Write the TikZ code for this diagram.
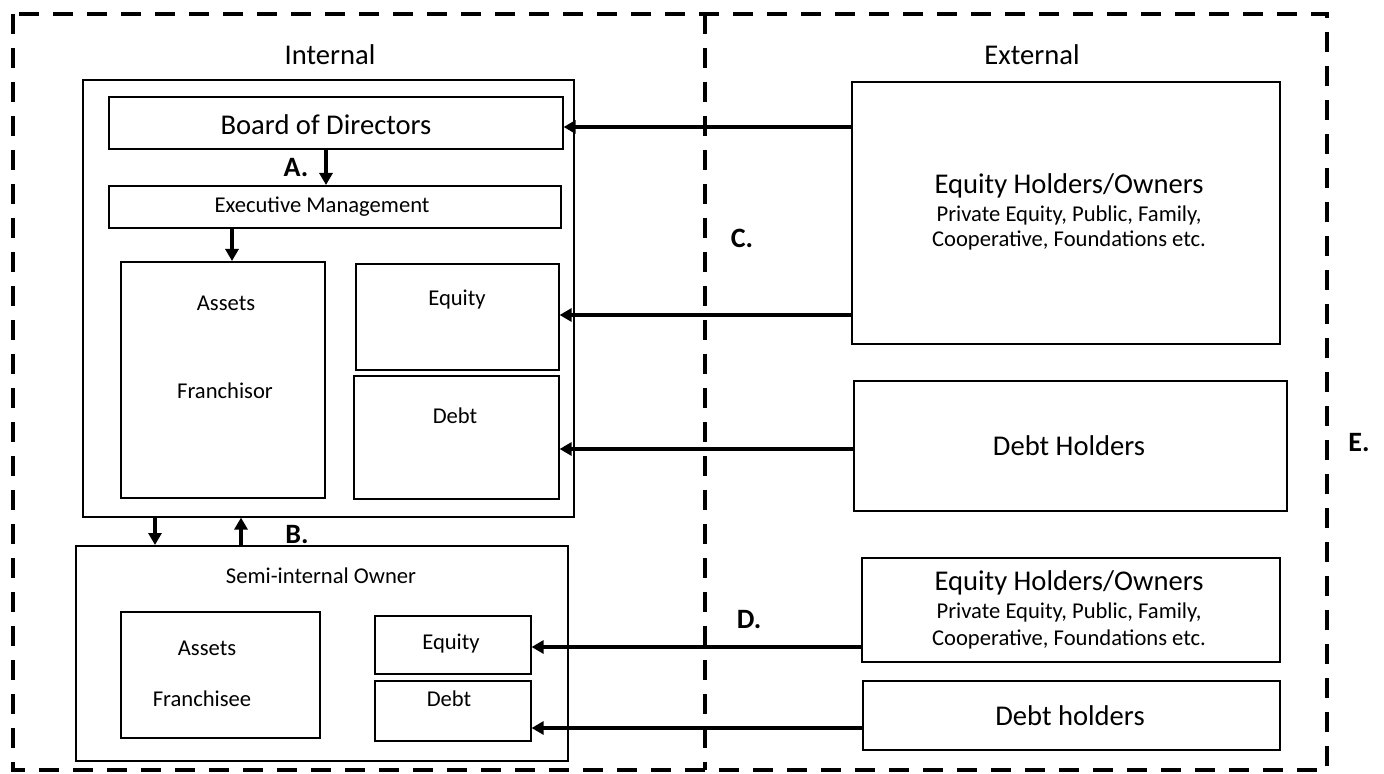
\documentclass[tikz,border=0pt]{standalone}
\usepackage{fontspec}
\setmainfont{Carlito}
\usetikzlibrary{arrows.meta}

\tikzset{
  frame/.style={line width=2pt, dash pattern=on 10pt off 7pt},
  box/.style={draw, line width=0.8pt, anchor=north west, inner sep=0pt},
  flow/.style={line width=2pt, -{Triangle[length=6pt, width=6.5pt]}},
  big/.style={font=\fontsize{14.3}{17}\selectfont},
  small/.style={font=\fontsize{11.3}{13.5}\selectfont},
  tag/.style={font=\fontsize{14}{16}\selectfont\bfseries},
}

\begin{document}
\begin{tikzpicture}[x=0.5pt, y=-0.5pt]
\useasboundingbox (0,0) rectangle (1384,774);

% dashed frame, internal | external
\draw[frame] (13,14) rectangle (1327,770);
\draw[frame] (705,14) -- (705,770);
\node[big] (internal) at (330,55) {Internal};
\node[big] (external) at (1032,55) {External};

% franchisor side
\node[box, minimum width=245.5pt, minimum height=218.5pt] (franchisor) at (82,79) {};
\node[box, minimum width=227pt, minimum height=26pt] (board) at (108,96) {};
\node[big] (boardtxt) at (326,125) {Board of Directors};
\node[box, minimum width=226pt, minimum height=21pt] (exec) at (108,185) {};
\node[small] (exectxt) at (322,207) {Executive Management};
\node[box, minimum width=102pt, minimum height=118pt] (assetsF) at (120,261) {};
\node[small] (assetsFtxt) at (226,303) {Assets};
\node[small] (franchisortxt) at (225,391) {Franchisor};
\node[box, minimum width=101.5pt, minimum height=53pt] (equityF) at (355,263) {};
\node[small] (equityFtxt) at (457,300) {Equity};
\node[box, minimum width=102.5pt, minimum height=61.5pt] (debtF) at (353,375) {};
\node[small] (debtFtxt) at (455,416) {Debt};

% semi-internal owner
\node[box, minimum width=246pt, minimum height=107.5pt] (semi) at (75,545) {};
\node[small] (semitxt) at (321,576) {Semi-internal Owner};
\node[box, minimum width=99.5pt, minimum height=63pt] (assetsS) at (120,611) {};
\node[small] (assetsStxt) at (207,648) {Assets};
\node[small] (franchiseetxt) at (202,699) {Franchisee};
\node[box, minimum width=78pt, minimum height=29pt] (equityS) at (374,615) {};
\node[small] (equityStxt) at (451,644) {Equity};
\node[box, minimum width=78pt, minimum height=30pt] (debtS) at (374,680) {};
\node[small] (debtStxt) at (449,699) {Debt};

% external holders
\node[box, minimum width=214pt, minimum height=131pt] (eqh1) at (851,81) {};
\node[big] (eqh1title) at (1069,186) {Equity Holders/Owners};
\node[small] (eqh1a) at (1069,215) {Private Equity, Public, Family,};
\node[small] (eqh1b) at (1069,240) {Cooperative, Foundations etc.};
\node[box, minimum width=216.5pt, minimum height=65pt] (debth1) at (853,380) {};
\node[big] (debth1txt) at (1069,446) {Debt Holders};
\node[box, minimum width=209pt, minimum height=52pt] (eqh2) at (861,557) {};
\node[big] (eqh2title) at (1069,583) {Equity Holders/Owners};
\node[small] (eqh2a) at (1069,612) {Private Equity, Public, Family,};
\node[small] (eqh2b) at (1069,639) {Cooperative, Foundations etc.};
\node[box, minimum width=208.5pt, minimum height=34.5pt] (debth2) at (862,680) {};
\node[big] (debth2txt) at (1070,716) {Debt holders};

% tags
\node[tag] (tagA) at (296,168) {A.};
\node[tag] (tagB) at (297,535) {B.};
\node[tag] (tagC) at (742,238) {C.};
\node[tag] (tagD) at (749,620) {D.};
\node[tag] (tagE) at (1359,443) {E.};

% flows
\draw[flow] (board.south -| 326,0) -- (exec.north -| 326,0);
\draw[flow] (exec.south -| 232,0) -- (assetsF.north -| 232,0);
\draw[flow] (franchisor.south -| 155,0) -- (semi.north -| 155,0);
\draw[flow] (semi.north -| 241,0) -- (franchisor.south -| 241,0);
\draw[flow] (eqh1.west |- 0,127) -- (board.east |- 0,127);
\draw[flow] (eqh1.west |- 0,315) -- (equityF.east |- 0,315);
\draw[flow] (debth1.west |- 0,449) -- (debtF.east |- 0,449);
\draw[flow] (eqh2.west |- 0,647) -- (equityS.east |- 0,647);
\draw[flow] (debth2.west |- 0,728) -- (debtS.east |- 0,728);
\end{tikzpicture}
\end{document}
